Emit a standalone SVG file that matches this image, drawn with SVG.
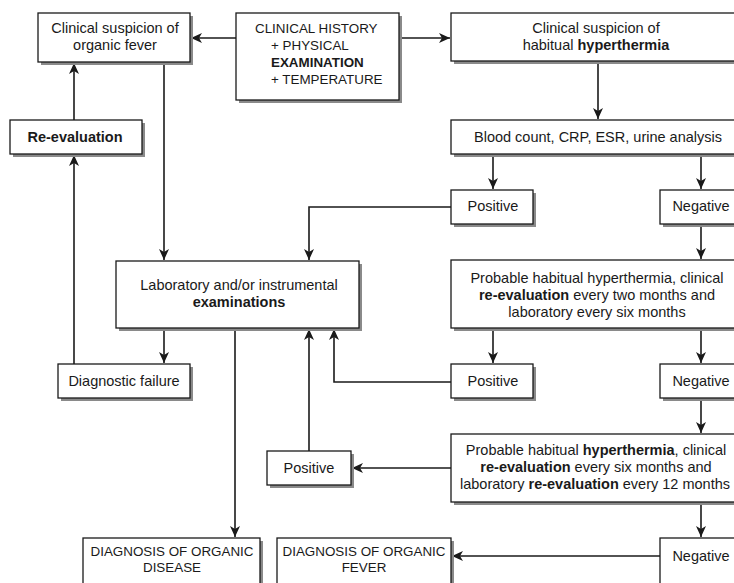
<svg xmlns="http://www.w3.org/2000/svg" width="734" height="583" viewBox="0 0 734 583">
<style>
.box{fill:#fff;stroke:#1a1a1a;stroke-width:1.3}
.sh{fill:#8a8a8a}
text{font-family:"Liberation Sans",Arial,sans-serif;font-size:14.5px;fill:#1a1a1a}
.caps{font-size:13.4px}
.c{text-anchor:middle}
.b{font-weight:bold}
.con{fill:none;stroke:#1a1a1a;stroke-width:1.6}
</style>
<defs>
<marker id="ah" markerUnits="userSpaceOnUse" markerWidth="12" markerHeight="10" refX="11" refY="5" orient="auto">
<path d="M0,0 L11,5 L0,10 L3,5 Z" fill="#1a1a1a"/>
</marker>
</defs>
<rect width="734" height="583" fill="#fff"/>

<g id="connectors">
<path class="con" d="M236,38 H191" marker-end="url(#ah)"/>
<path class="con" d="M399,38 H450" marker-end="url(#ah)"/>
<path class="con" d="M164,62 V260" marker-end="url(#ah)"/>
<path class="con" d="M74,120 V63" marker-end="url(#ah)"/>
<path class="con" d="M74,364 V155" marker-end="url(#ah)"/>
<path class="con" d="M164,328 V363" marker-end="url(#ah)"/>
<path class="con" d="M598,61 V119" marker-end="url(#ah)"/>
<path class="con" d="M493,154 V189" marker-end="url(#ah)"/>
<path class="con" d="M701,154 V189" marker-end="url(#ah)"/>
<path class="con" d="M451,207 H309 V260" marker-end="url(#ah)"/>
<path class="con" d="M701,224 V259" marker-end="url(#ah)"/>
<path class="con" d="M493,328 V363" marker-end="url(#ah)"/>
<path class="con" d="M701,328 V363" marker-end="url(#ah)"/>
<path class="con" d="M451,382 H334 V329" marker-end="url(#ah)"/>
<path class="con" d="M701,398 V433" marker-end="url(#ah)"/>
<path class="con" d="M451,468 H352" marker-end="url(#ah)"/>
<path class="con" d="M309,451 V329" marker-end="url(#ah)"/>
<path class="con" d="M235,328 V537" marker-end="url(#ah)"/>
<path class="con" d="M701,502 V537" marker-end="url(#ah)"/>
<path class="con" d="M660,556 H452" marker-end="url(#ah)"/>
</g>

<g id="organic-fever">
<rect class="sh" x="41" y="16" width="152" height="49"/>
<rect class="box" x="38" y="13" width="152" height="49"/>
<text class="c" x="115" y="33">Clinical suspicion of</text>
<text class="c" x="115" y="50">organic fever</text>
</g>

<g id="clinical-history">
<rect class="sh" x="239" y="16" width="163" height="87"/>
<rect class="box" x="236" y="13" width="163" height="87"/>
<text class="caps" x="255" y="33">CLINICAL HISTORY</text>
<text class="caps" x="271" y="50">+ PHYSICAL</text>
<text class="caps b" x="271" y="67">EXAMINATION</text>
<text class="caps" x="271" y="84">+ TEMPERATURE</text>
</g>

<g id="hyperthermia">
<rect class="sh" x="454" y="16" width="290" height="48"/>
<rect class="box" x="451" y="13" width="290" height="48"/>
<text class="c" x="596" y="33">Clinical suspicion of</text>
<text class="c" x="596" y="50">habitual <tspan class="b">hyperthermia</tspan></text>
</g>

<g id="blood-count">
<rect class="sh" x="454" y="123" width="290" height="34"/>
<rect class="box" x="451" y="120" width="290" height="34"/>
<text class="c" x="598" y="142">Blood count, CRP, ESR, urine analysis</text>
</g>

<g id="positive-1">
<rect class="sh" x="454" y="193" width="82" height="34"/>
<rect class="box" x="451" y="190" width="82" height="34"/>
<text class="c" x="493" y="211">Positive</text>
</g>

<g id="negative-1">
<rect class="sh" x="663" y="193" width="80" height="34"/>
<rect class="box" x="660" y="190" width="80" height="34"/>
<text class="c" x="701" y="211">Negative</text>
</g>

<g id="re-evaluation">
<rect class="sh" x="13" y="123" width="132" height="34"/>
<rect class="box" x="10" y="120" width="132" height="34"/>
<text class="c b" x="75" y="142">Re-evaluation</text>
</g>

<g id="laboratory">
<rect class="sh" x="119" y="264" width="243" height="67"/>
<rect class="box" x="116" y="261" width="243" height="67"/>
<text class="c" x="239" y="290">Laboratory and/or instrumental</text>
<text class="c b" x="239" y="307">examinations</text>
</g>

<g id="probable-1">
<rect class="sh" x="454" y="263" width="290" height="68"/>
<rect class="box" x="451" y="260" width="290" height="68"/>
<text class="c" x="597" y="283">Probable habitual hyperthermia, clinical</text>
<text class="c" x="597" y="300"><tspan class="b">re-evaluation</tspan> every two months and</text>
<text class="c" x="597" y="317">laboratory every six months</text>
</g>

<g id="diagnostic-failure">
<rect class="sh" x="61" y="367" width="132" height="34"/>
<rect class="box" x="58" y="364" width="132" height="34"/>
<text class="c" x="124" y="386">Diagnostic failure</text>
</g>

<g id="positive-2">
<rect class="sh" x="454" y="367" width="82" height="34"/>
<rect class="box" x="451" y="364" width="82" height="34"/>
<text class="c" x="493" y="386">Positive</text>
</g>

<g id="negative-2">
<rect class="sh" x="663" y="367" width="80" height="34"/>
<rect class="box" x="660" y="364" width="80" height="34"/>
<text class="c" x="701" y="386">Negative</text>
</g>

<g id="probable-2">
<rect class="sh" x="454" y="437" width="290" height="68"/>
<rect class="box" x="451" y="434" width="290" height="68"/>
<text class="c" x="596" y="455">Probable habitual <tspan class="b">hyperthermia</tspan>, clinical</text>
<text class="c" x="596" y="472"><tspan class="b">re-evaluation</tspan> every six months and</text>
<text class="c" x="595" y="489">laboratory <tspan class="b">re-evaluation</tspan> every 12 months</text>
</g>

<g id="positive-3">
<rect class="sh" x="270" y="454" width="84" height="34"/>
<rect class="box" x="267" y="451" width="84" height="34"/>
<text class="c" x="309" y="473">Positive</text>
</g>

<g id="diagnosis-disease">
<rect class="sh" x="86" y="541" width="177" height="60"/>
<rect class="box" x="83" y="538" width="177" height="60"/>
<text class="c caps" x="172" y="556">DIAGNOSIS OF ORGANIC</text>
<text class="c caps" x="172" y="572">DISEASE</text>
</g>

<g id="diagnosis-fever">
<rect class="sh" x="280" y="541" width="174" height="60"/>
<rect class="box" x="277" y="538" width="174" height="60"/>
<text class="c caps" x="364" y="556">DIAGNOSIS OF ORGANIC</text>
<text class="c caps" x="364" y="572">FEVER</text>
</g>

<g id="negative-3">
<rect class="sh" x="663" y="541" width="80" height="60"/>
<rect class="box" x="660" y="538" width="80" height="60"/>
<text class="c" x="701" y="561">Negative</text>
</g>
</svg>
